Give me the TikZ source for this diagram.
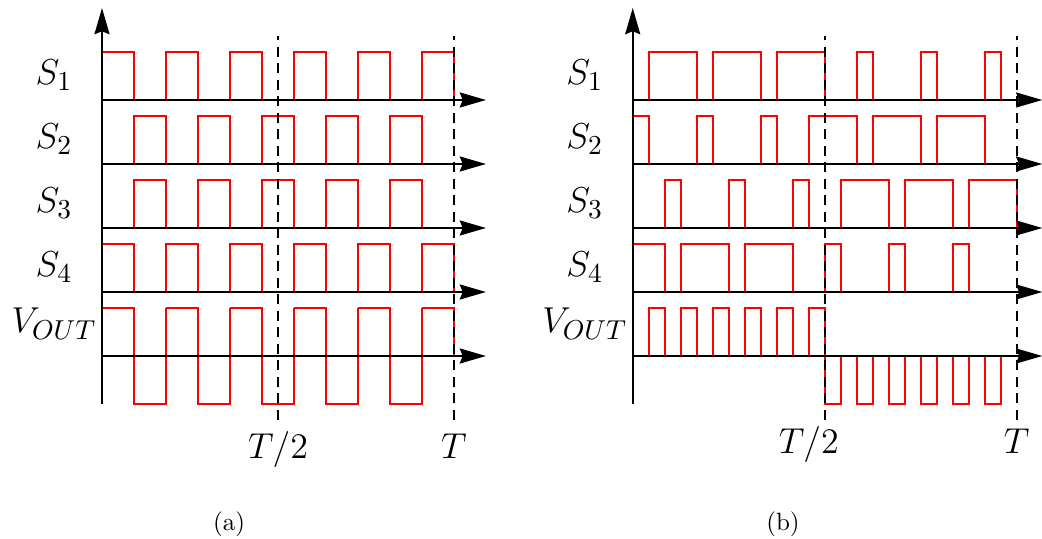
\documentclass[tikz,border=0pt]{standalone}
\usepackage{amsmath}
\usetikzlibrary{arrows.meta}

\tikzset{
  wave/.style={red, line width=0.85pt},
  axis/.style={line width=0.9pt, -{Stealth[length=10.5pt,width=6pt,inset=1.2pt]}},
  period/.style={line width=0.9pt, dash pattern=on 4pt off 2.6pt},
  sig/.style={inner sep=0pt, anchor=base, font=\fontsize{15.2}{18}\selectfont},
  sublabel/.style={inner sep=0pt, anchor=base}
}

\begin{document}
\begin{tikzpicture}[x=6.4pt, y=6.4pt]
\useasboundingbox (-6.375,-11.4375) rectangle (58.75,22.25);

% (a) square-wave switching
\foreach \y in {16,4}
  \foreach \a in {0,4,...,20}
    \draw[wave] (\a,\y) -- (\a,\y+3) -- (\a+2,\y+3) -- (\a+2,\y);
\foreach \y in {12,8}
  \foreach \a in {2,6,...,18}
    \draw[wave] (\a,\y) -- (\a,\y+3) -- (\a+2,\y+3) -- (\a+2,\y);
\foreach \a in {0,4,...,16}
  \draw[wave] (\a,3) -- (\a+2,3) -- (\a+2,-3) -- (\a+4,-3) -- (\a+4,3);
\draw[wave] (20,3) -- (22,3) -- (22,0);

\draw[axis] (0,-3) -- (0,21.75);
\foreach \y in {16,12,8,4,0}
  \draw[axis] (0,\y) -- (24,\y);
\draw[period] (11,-4) -- (11,20);
\draw[period] (22,-4) -- (22,20);

\node[sig] (s1a) at (-3,16.95) {$S_1$};
\node[sig] (s2a) at (-3,12.95) {$S_2$};
\node[sig] (s3a) at (-3,8.95) {$S_3$};
\node[sig] (s4a) at (-3,4.95) {$S_4$};
\node[sig] (vouta) at (-3,1.45) {$V_{OUT}$};
\node[sig] (halfa) at (11,-6.4) {$T/2$};
\node[sig] (fulla) at (22,-6.4) {$T$};
\node[sublabel] (capa) at (7.94,-10.92) {(a)};

% (b) pulse-width modulated switching
\begin{scope}[shift={(33.17,0)}]
\foreach \a/\b in {1/4,5/8,9/12,14/15,18/19,22/23}
  \draw[wave] (\a,16) -- (\a,19) -- (\b,19) -- (\b,16);
\foreach \a/\b in {0/1,4/5,8/9,11/14,15/18,19/22}
  \draw[wave] (\a,12) -- (\a,15) -- (\b,15) -- (\b,12);
\foreach \a/\b in {2/3,6/7,10/11,13/16,17/20,21/24}
  \draw[wave] (\a,8) -- (\a,11) -- (\b,11) -- (\b,8);
\foreach \a/\b in {0/2,3/6,7/10,12/13,16/17,20/21}
  \draw[wave] (\a,4) -- (\a,7) -- (\b,7) -- (\b,4);
\foreach \a in {1,3,...,11}
  \draw[wave] (\a,0) -- (\a,3) -- (\a+1,3) -- (\a+1,0);
\foreach \a in {12,14,...,22}
  \draw[wave] (\a,0) -- (\a,-3) -- (\a+1,-3) -- (\a+1,0);

\draw[axis] (0,-3) -- (0,21.75);
\foreach \y in {16,12,8,4,0}
  \draw[axis] (0,\y) -- (25.6,\y);
\draw[period] (12,-4) -- (12,20);
\draw[period] (24,-4) -- (24,20);

\node[sig] (s1b) at (-3,16.95) {$S_1$};
\node[sig] (s2b) at (-3,12.95) {$S_2$};
\node[sig] (s3b) at (-3,8.95) {$S_3$};
\node[sig] (s4b) at (-3,4.95) {$S_4$};
\node[sig] (voutb) at (-3,1.45) {$V_{OUT}$};
\node[sig] (halfb) at (11,-6.1) {$T/2$};
\node[sig] (fullb) at (24,-6.1) {$T$};
\node[sublabel] (capb) at (9.39,-10.92) {(b)};
\end{scope}
\end{tikzpicture}
\end{document}
